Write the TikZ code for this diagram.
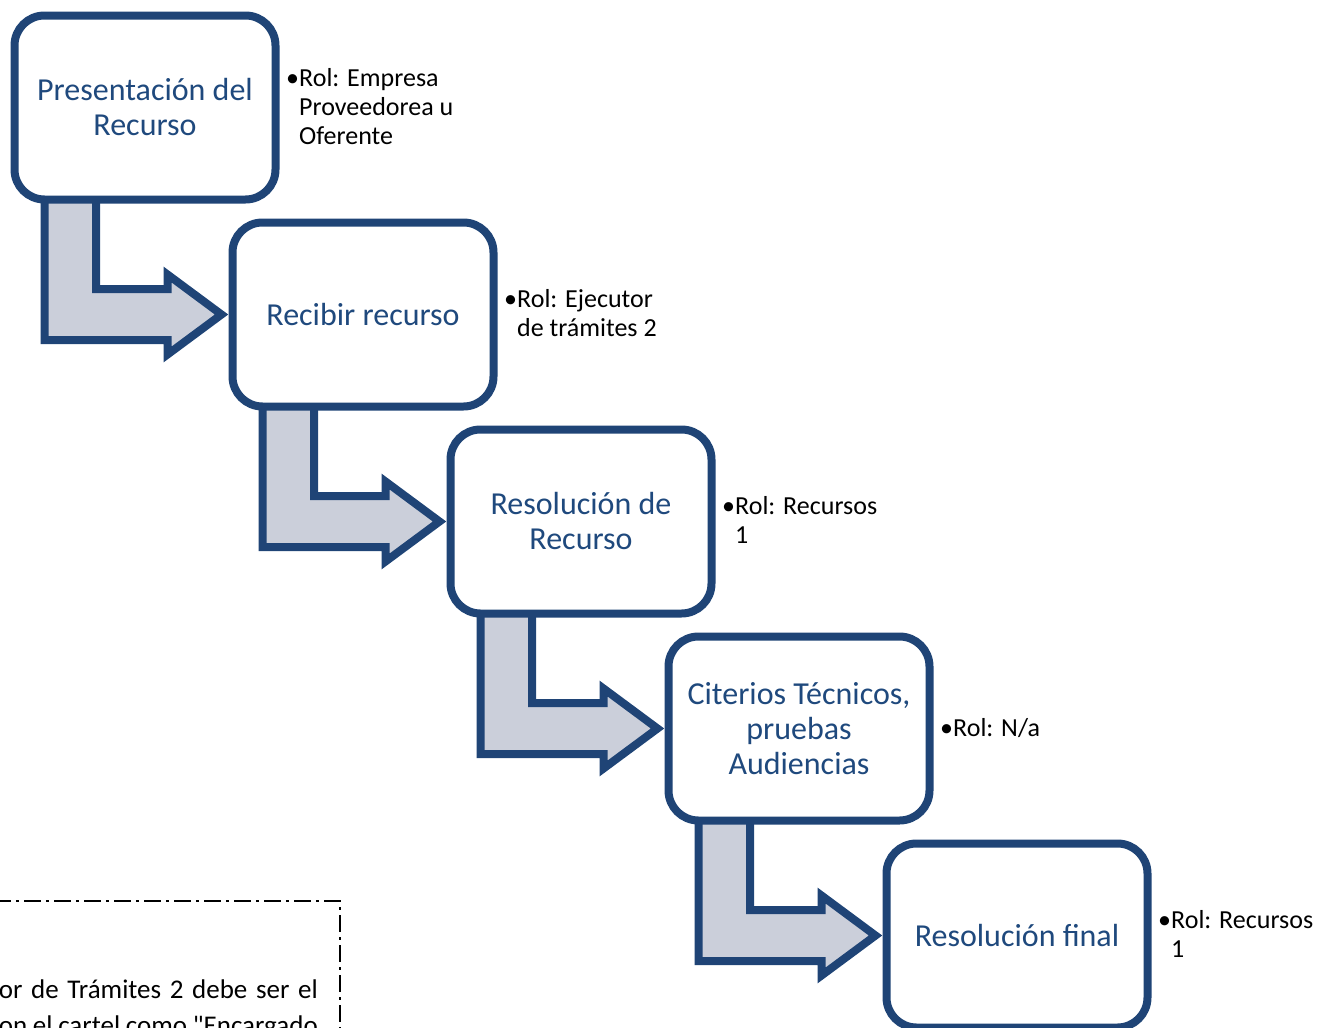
\documentclass[tikz,border=0pt]{standalone}
\usepackage{fontspec}
\setmainfont{Carlito}
\usetikzlibrary{positioning,backgrounds}
\definecolor{navy}{RGB}{31,68,118}
\definecolor{navytext}{RGB}{31,73,125}
\definecolor{arrowfill}{RGB}{203,207,218}
\newcommand{\rolnote}[1]{\makebox[13pt][c]{\textbullet}\begin{tabular}[t]{@{}l@{}}#1\end{tabular}}
\newcommand{\straightquote}{\XeTeXglyph\numexpr\XeTeXcharglyph"22\relax}
\begin{document}
\begin{tikzpicture}[x=1pt,y=-1pt,
    stepbox/.style={draw=navy,line width=8pt,rounded corners=30pt,fill=white,
        minimum width=261pt,minimum height=184pt,inner sep=0pt,outer sep=0pt,
        align=center,text=navytext,font=\fontsize{32}{35}\selectfont},
    rolbox/.style={inner sep=0pt,yshift=-2pt,font=\fontsize{26}{29}\selectfont},
    bendarrow/.style={draw=navy,line width=8pt,fill=arrowfill,line join=miter},
    notetext/.style={inner sep=0pt,anchor=base east,font=\fontsize{27}{36}\selectfont}]
    \useasboundingbox (0,0) rectangle (1318,1028);
    \clip (0,0) rectangle (1318,1028);
    % steps
    \node[stepbox] (b1) at (145,107.5) {Presentación del\\Recurso};
    \node[stepbox] (b2) at (363,314.5) {Recibir recurso};
    \node[stepbox] (b3) at (581,521.5) {Resolución de\\Recurso};
    \node[stepbox] (b4) at (799,728.5) {Citerios Técnicos,\\pruebas\\Audiencias};
    \node[stepbox] (b5) at (1017,935.5) {Resolución final};
    % bent arrows, under the boxes
    \begin{scope}[on background layer]
    \foreach \a/\b in {b1/b2,b2/b3,b3/b4,b4/b5}{
        \draw[bendarrow] ([xshift=30pt,yshift=5pt]\a.south west)
            |- ([xshift=-65pt,yshift=-25.5pt]\b.west)
            -- ([xshift=-65pt,yshift=-40pt]\b.west)
            -- ([xshift=-11pt]\b.west)
            -- ([xshift=-65pt,yshift=40pt]\b.west)
            -- ([xshift=-65pt,yshift=25.5pt]\b.west)
            -| ([xshift=81.5pt,yshift=5pt]\a.south west) -- cycle;
    }
    \end{scope}
    % roles
    \node[rolbox,right=10.5pt of b1] (r1) {\rolnote{Rol: Empresa\\Proveedorea u\\Oferente}};
    \node[rolbox,right=10.5pt of b2] (r2) {\rolnote{Rol: Ejecutor\\de trámites 2}};
    \node[rolbox,right=10.5pt of b3] (r3) {\rolnote{Rol: Recursos\\1}};
    \node[rolbox,right=10.5pt of b4] (r4) {\rolnote{Rol: N/a}};
    \node[rolbox,right=10.5pt of b5] (r5) {\rolnote{Rol: Recursos\\1}};
    % note frame
    \draw[line width=1.3pt,dash pattern=on 17pt off 5pt on 3pt off 5pt] (-6,901) -- (340,901) -- (340,1040);
    \node[notetext] (n1) at (318,998) {\makebox[319pt][s]{or de Trámites 2 debe ser el}};
    \node[notetext] (n2) at (318,1034) {\makebox[319pt][s]{on el cartel como \straightquote Encargado}};
\end{tikzpicture}
\end{document}
